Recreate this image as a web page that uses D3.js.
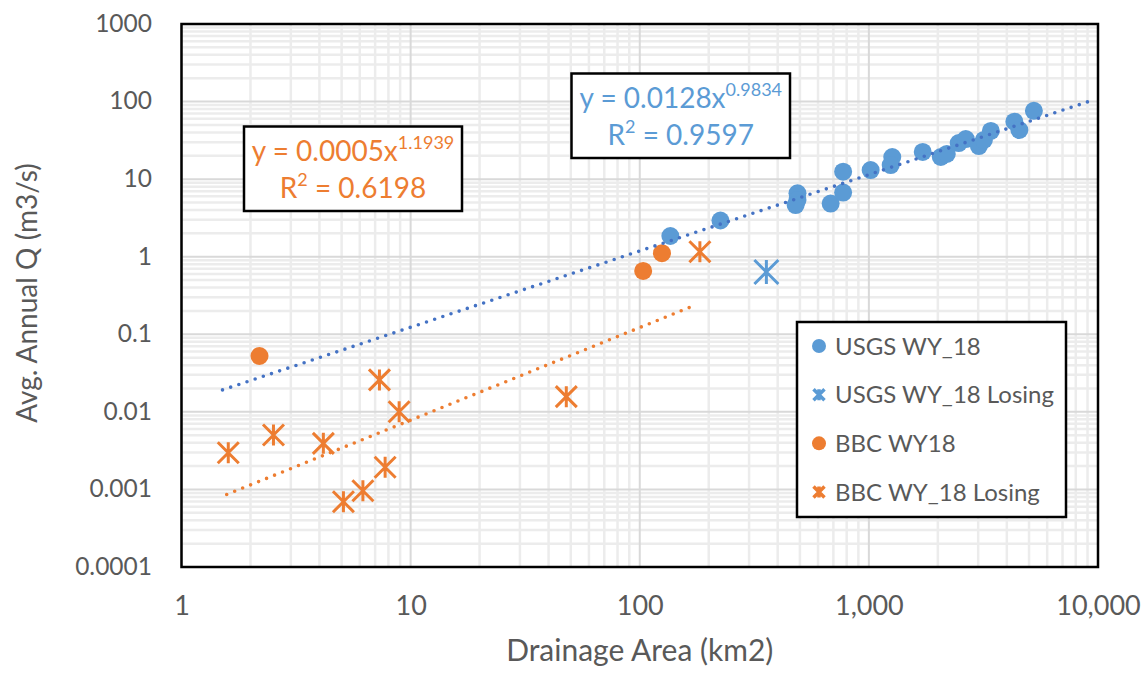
<!DOCTYPE html>
<html>
<head>
<meta charset="utf-8">
<script src="https://cdn.jsdelivr.net/npm/d3@7"></script>
<style>
  body { margin: 0; background: #fff; overflow: hidden; }
  svg { display: block; }
  svg text { font-family: Lato, "Open Sans", sans-serif; }
</style>
</head>
<body>
<div class="canvas"></div>
<script>
// values
const usgsArea = [136, 225, 488, 488, 479, 681, 772, 772, 1018, 1265, 1245, 1718, 2060, 2188, 2466, 2648, 3020, 3177, 3407, 4315, 4537, 5250];
const usgsQ = [1.85, 2.93, 6.58, 5.38, 4.64, 4.85, 12.5, 6.72, 13.1, 19.3, 15.2, 22.4, 19.3, 21.1, 29.2, 32.9, 26.7, 32.0, 41.8, 55, 43, 76];
const usgsLosingArea = [357];
const usgsLosingQ = [0.635];
const bbcArea = [2.19, 103.5, 125];
const bbcQ = [0.0525, 0.655, 1.11];
const bbcLosingArea = [1.6, 2.52, 4.16, 7.31, 8.91, 7.74, 6.19, 5.09, 47.8, 183];
const bbcLosingQ = [0.00297, 0.00503, 0.00393, 0.0258, 0.01005, 0.00193, 0.000963, 0.000695, 0.0157, 1.16];

// power trendlines y = a * x^b, drawn over [from, to]
const trendNames = ["usgs", "bbc"];
const trendA = [0.0128, 0.0005];
const trendB = [0.9834, 1.1939];
const trendFrom = [1.51, 1.575];
const trendTo = [9100, 173];
const trendR2 = ["0.9597", "0.6198"];
const trendCoef = ["0.0128", "0.0005"];
const trendExp = ["0.9834", "1.1939"];

const xTicks = [1, 10, 100, 1000, 10000];
const yTicks = [0.0001, 0.001, 0.01, 0.1, 1, 10, 100, 1000];
const yTickLabels = ["0.0001", "0.001", "0.01", "0.1", "1", "10", "100", "1000"];
const legendNames = ["USGS WY_18", "USGS WY_18 Losing", "BBC WY18", "BBC WY_18 Losing"];

const blue = "#5b9bd5";
const orange = "#ed7d31";
const trendColors = ["#4472c4", orange];
const grey = "#595959";

const width = 1146;
const height = 675;
const margin = { top: 24, right: 48, bottom: 108, left: 181.5 };
const innerWidth = width - margin.left - margin.right;
const innerHeight = height - margin.top - margin.bottom;

const x = d3.scaleLog().domain([1, 10000]).range([0, innerWidth]);
const y = d3.scaleLog().domain([0.0001, 1000]).range([innerHeight, 0]);

const svg = d3.select(".canvas").append("svg")
  .attr("width", width)
  .attr("height", height);

const chart = svg.append("g").attr("transform", `translate(${margin.left},${margin.top})`);

// minor grid, then major grid
const xMinor = x.ticks().filter((d) => !xTicks.includes(d));
const yMinor = y.ticks().filter((d) => !yTicks.includes(d));

chart.append("g").selectAll("line").data(xMinor).enter().append("line")
  .attr("x1", (d) => x(d)).attr("x2", (d) => x(d))
  .attr("y1", 0).attr("y2", innerHeight)
  .attr("stroke", "#ececec").attr("stroke-width", 2.5);
chart.append("g").selectAll("line").data(yMinor).enter().append("line")
  .attr("y1", (d) => y(d)).attr("y2", (d) => y(d))
  .attr("x1", 0).attr("x2", innerWidth)
  .attr("stroke", "#ececec").attr("stroke-width", 2.5);
chart.append("g").selectAll("line").data(xTicks).enter().append("line")
  .attr("x1", (d) => x(d)).attr("x2", (d) => x(d))
  .attr("y1", 0).attr("y2", innerHeight)
  .attr("stroke", "#d9d9d9").attr("stroke-width", 2);
chart.append("g").selectAll("line").data(yTicks).enter().append("line")
  .attr("y1", (d) => y(d)).attr("y2", (d) => y(d))
  .attr("x1", 0).attr("x2", innerWidth)
  .attr("stroke", "#d9d9d9").attr("stroke-width", 2);

// axes (labels only)
const xAxis = d3.axisBottom(x).tickValues(xTicks).tickFormat(d3.format(",")).tickSize(0).tickPadding(29);
const gx = chart.append("g").attr("transform", `translate(0,${innerHeight})`).call(xAxis);
gx.select(".domain").remove();
gx.selectAll("text").attr("font-family", "Lato, sans-serif").attr("font-size", 27).attr("fill", grey);

const yAxis = d3.axisLeft(y).tickValues(yTicks).tickFormat((d, i) => yTickLabels[i]).tickSize(0).tickPadding(29.5);
const gy = chart.append("g").call(yAxis);
gy.select(".domain").remove();
gy.selectAll("text").attr("font-family", "DejaVu Sans, sans-serif").attr("font-size", 24.5).attr("fill", grey).attr("dy", "0.3em");

// asterisk marker path (X plus vertical bar)
function star(s) {
  const h = s / 2;
  return `M${-h},${-h}L${h},${h}M${-h},${h}L${h},${-h}M0,${-h}L0,${h}`;
}

const usgs = usgsArea.map((d, i) => ({ x: d, y: usgsQ[i] }));
const usgsLosing = usgsLosingArea.map((d, i) => ({ x: d, y: usgsLosingQ[i] }));
const bbc = bbcArea.map((d, i) => ({ x: d, y: bbcQ[i] }));
const bbcLosing = bbcLosingArea.map((d, i) => ({ x: d, y: bbcLosingQ[i] }));

chart.append("g").selectAll("circle").data(usgs).enter().append("circle")
  .attr("cx", (d) => x(d.x)).attr("cy", (d) => y(d.y)).attr("r", 9).attr("fill", blue);

chart.append("g").selectAll("path").data(usgsLosing).enter().append("path")
  .attr("transform", (d) => `translate(${x(d.x)},${y(d.y)})`)
  .attr("d", star(24)).attr("stroke", blue).attr("stroke-width", 3).attr("fill", "none");

chart.append("g").selectAll("circle").data(bbc).enter().append("circle")
  .attr("cx", (d) => x(d.x)).attr("cy", (d) => y(d.y)).attr("r", 9).attr("fill", orange);

chart.append("g").selectAll("path").data(bbcLosing).enter().append("path")
  .attr("transform", (d) => `translate(${x(d.x)},${y(d.y)})`)
  .attr("d", star(21)).attr("stroke", orange).attr("stroke-width", 3).attr("fill", "none");

// trendlines
trendNames.forEach((name, i) => {
  const pts = [trendFrom[i], trendTo[i]].map((v) => [x(v), y(trendA[i] * Math.pow(v, trendB[i]))]);
  chart.append("path")
    .attr("class", "trend " + name)
    .attr("d", d3.line()(pts))
    .attr("stroke", trendColors[i])
    .attr("stroke-width", 3.6)
    .attr("stroke-linecap", "round")
    .attr("stroke-dasharray", "0,8.6")
    .attr("fill", "none");
});

// plot frame
chart.append("rect")
  .attr("width", innerWidth).attr("height", innerHeight)
  .attr("fill", "none").attr("stroke", "#000").attr("stroke-width", 2.5);

// equation labels
const eqBoxes = [
  { x: 571.5, y: 73.5, w: 218.5, h: 84.5, color: blue },
  { x: 244, y: 126.5, w: 218, h: 84.5, color: orange },
];
trendNames.forEach((name, i) => {
  const b = eqBoxes[i];
  const g = svg.append("g").attr("transform", `translate(${b.x},${b.y})`);
  g.append("rect").attr("width", b.w).attr("height", b.h)
    .attr("fill", "#fff").attr("stroke", "#000").attr("stroke-width", 2.5);
  const t1 = g.append("text").attr("x", b.w / 2).attr("y", 34.5)
    .attr("text-anchor", "middle").attr("fill", b.color).attr("font-size", 28);
  t1.append("tspan").text(`y = ${trendCoef[i]}x`);
  t1.append("tspan").attr("font-size", 18).attr("dy", -12).text(trendExp[i]);
  const t2 = g.append("text").attr("x", b.w / 2).attr("y", 71)
    .attr("text-anchor", "middle").attr("fill", b.color).attr("font-size", 28);
  t2.append("tspan").text("R");
  t2.append("tspan").attr("font-size", 18).attr("dy", -12).text("2");
  t2.append("tspan").attr("dy", 12).text(" = " + trendR2[i]);
});

// legend
const legend = svg.append("g").attr("transform", "translate(797,322)");
legend.append("rect").attr("width", 269).attr("height", 195)
  .attr("fill", "#fff").attr("stroke", "#000").attr("stroke-width", 2.5);
const legendY = d3.scalePoint().domain(legendNames).range([24, 170]);
const items = legend.selectAll(".item").data(legendNames).enter().append("g")
  .attr("transform", (d) => `translate(22,${legendY(d)})`);
items.each(function (d, i) {
  const g = d3.select(this);
  const c = i < 2 ? blue : orange;
  if (i % 2 === 0) {
    g.append("circle").attr("r", 7).attr("fill", c);
  } else {
    g.append("path").attr("d", star(11)).attr("stroke", c).attr("stroke-width", 3.5).attr("fill", "none");
  }
  g.append("text").attr("x", 16).attr("y", 8.5).attr("font-size", 24).attr("fill", grey).text(d);
});

// axis titles
svg.append("text")
  .attr("x", margin.left + innerWidth / 2).attr("y", 661)
  .attr("text-anchor", "middle").attr("font-size", 30).attr("fill", grey)
  .text("Drainage Area (km2)");
svg.append("text")
  .attr("transform", "translate(37,293) rotate(-90)")
  .attr("text-anchor", "middle").attr("font-size", 28).attr("fill", grey)
  .text("Avg. Annual Q (m3/s)");
</script>
</body>
</html>
